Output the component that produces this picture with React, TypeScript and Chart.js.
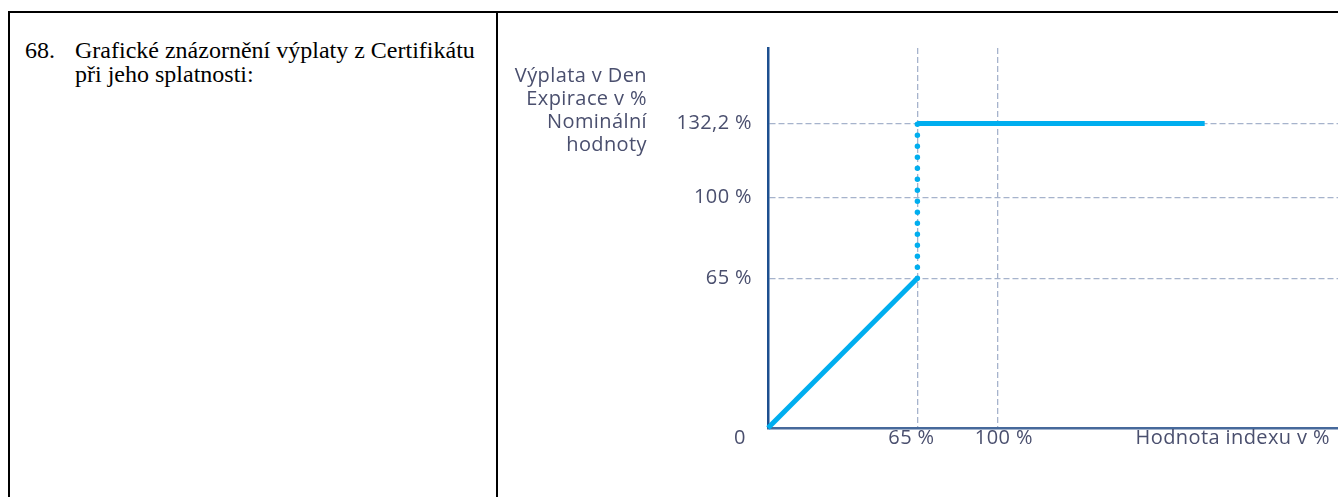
import React, { useEffect, useRef } from "react";
import { Chart, registerables } from "chart.js";
Chart.register(...registerables);

// ---- data ----
const xTickValues = [0, 65, 100];
const xTickLabels = ["0", "65 %", "100 %"];
const yTickValues = [65, 100, 132.2];
const yTickLabels = ["65 %", "100 %", "132,2 %"];
const xAxisTitle = "Hodnota indexu v %";
const yAxisTitle = ["Výplata v Den", "Expirace v %", "Nominální", "hodnoty"];
const risingX = [0, 65];
const risingY = [0, 65];
const jumpX = [65, 65];
const jumpY = [65, 132.2];
const capX = [65, 190];
const capY = [132.2, 132.2];
const xMax = 248;
const yMax = 165;
const headingNumber = "68.";
const headingLines = ["Grafické znázornění výplaty z Certifikátu", "při jeho splatnosti:"];

// ---- style ----
const LINE = "#00aeef";
const GRID = "#a6b3cc";
const TEXT = "#4a4f6e";
const FONT = "'Open Sans', sans-serif";
const xLabelOffsets = [-28, -6, 6];

const toPts = (xs: number[], ys: number[]) => xs.map((x, i) => ({ x, y: ys[i] }));

const labelsPlugin = {
  id: "customLabels",
  afterDraw(chart: any) {
    const { ctx, chartArea, scales } = chart;
    const xs = scales.x;
    const ys = scales.y;
    ctx.save();
    ctx.fillStyle = TEXT;
    ctx.font = `20px ${FONT}`;
    try {
      (ctx as any).letterSpacing = "0.4px";
    } catch (e) {}
    ctx.textBaseline = "middle";
    ctx.textAlign = "right";
    yTickValues.forEach((v, i) => {
      ctx.fillText(yTickLabels[i], chartArea.left - 16, ys.getPixelForValue(v));
    });
    ctx.textAlign = "center";
    xTickValues.forEach((v, i) => {
      ctx.fillText(xTickLabels[i], xs.getPixelForValue(v) + xLabelOffsets[i], chartArea.bottom + 10);
    });
    ctx.textAlign = "right";
    ctx.fillText(xAxisTitle, chartArea.right - 8, chartArea.bottom + 10);
    yAxisTitle.forEach((t, i) => {
      ctx.fillText(t, chartArea.left - 121, chartArea.top + 28 + i * 23);
    });
    ctx.restore();
  },
};

function PayoffChart() {
  const ref = useRef<HTMLCanvasElement | null>(null);
  useEffect(() => {
    if (!ref.current) return;
    const chart = new Chart(ref.current, {
      type: "line",
      data: {
        datasets: [
          {
            data: toPts(risingX, risingY),
            borderColor: LINE,
            borderWidth: 5,
            pointRadius: 0,
            clip: false as any,
          },
          {
            data: toPts(jumpX, jumpY),
            borderColor: LINE,
            borderWidth: 5.5,
            borderDash: [0, 11],
            borderCapStyle: "round",
            pointRadius: 0,
            clip: false as any,
          },
          {
            data: toPts(capX, capY),
            borderColor: LINE,
            borderWidth: 5,
            borderCapStyle: "butt",
            pointRadius: 0,
            clip: false as any,
          },
        ],
      },
      options: {
        animation: false,
        responsive: false,
        maintainAspectRatio: false,
        devicePixelRatio: 1,
        layout: { padding: { left: 268, right: 0, top: 34, bottom: 69 } },
        plugins: { legend: { display: false }, tooltip: { enabled: false } },
        scales: {
          x: {
            type: "linear",
            min: 0,
            max: xMax,
            ticks: { display: false },
            grid: { color: GRID, lineWidth: 1.3, drawTicks: false },
            border: { color: "#46699b", width: 2.5, dash: [6, 3] },
            afterBuildTicks: (s: any) => {
              s.ticks = xTickValues.filter((v) => v > 0).map((v) => ({ value: v }));
            },
            afterFit: (s: any) => {
              s.height = 0;
            },
          },
          y: {
            type: "linear",
            min: 0,
            max: yMax,
            ticks: { display: false },
            grid: { color: GRID, lineWidth: 1.3, drawTicks: false },
            border: { color: "#1d4f8f", width: 2.5, dash: [6, 3] },
            afterBuildTicks: (s: any) => {
              s.ticks = yTickValues.map((v) => ({ value: v }));
            },
            afterFit: (s: any) => {
              s.width = 0;
            },
          },
        },
      },
      plugins: [labelsPlugin],
    } as any);
    return () => chart.destroy();
  }, []);
  return (
    <canvas
      ref={ref}
      width={838}
      height={483}
      style={{ position: "absolute", left: 500, top: 14, width: 838, height: 483 }}
    />
  );
}

export default function App() {
  useEffect(() => {
    document.body.style.margin = "0";
    document.body.style.overflow = "hidden";
  }, []);
  const serif = "'Liberation Serif', 'Times New Roman', serif";
  return (
    <div style={{ position: "relative", width: 1338, height: 497, overflow: "hidden", background: "#fff" }}>
      <div style={{ position: "absolute", left: 8, top: 11, width: 1330, height: 2, background: "#000" }} />
      <div style={{ position: "absolute", left: 8, top: 11, width: 2, height: 486, background: "#000" }} />
      <div style={{ position: "absolute", left: 496, top: 11, width: 2, height: 486, background: "#000" }} />
      <div style={{ position: "absolute", left: 25, top: 38, fontFamily: serif, fontSize: 24, lineHeight: "24px", color: "#000" }}>
        {headingNumber}
      </div>
      <div style={{ position: "absolute", left: 75, top: 38, fontFamily: serif, fontSize: 24, lineHeight: "24px", color: "#000", whiteSpace: "nowrap" }}>
        {headingLines.map((l, i) => (
          <div key={i}>{l}</div>
        ))}
      </div>
      <PayoffChart />
    </div>
  );
}
